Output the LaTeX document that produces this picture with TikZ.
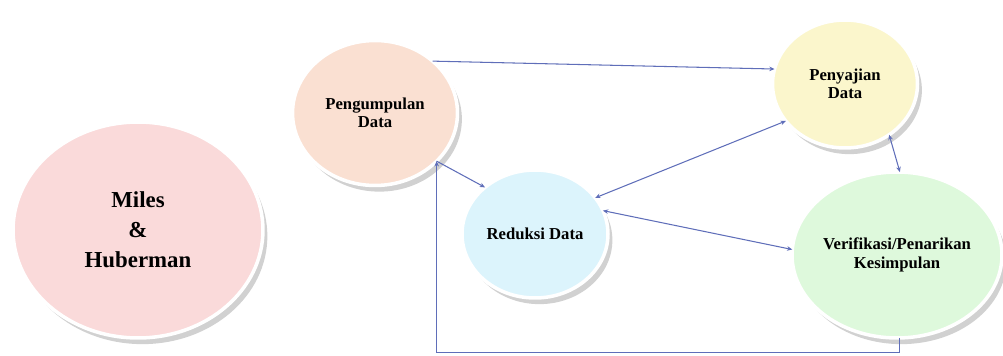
\documentclass[tikz,border=0pt]{standalone}
\usepackage{fontspec}
\setmainfont{Liberation Serif}
\usetikzlibrary{shapes.geometric,shadows,arrows.meta}

\definecolor{linkblue}{RGB}{95,110,185}
\definecolor{milespink}{RGB}{250,218,218}
\definecolor{pengpeach}{RGB}{250,224,210}
\definecolor{redcyan}{RGB}{220,244,252}
\definecolor{penyyellow}{RGB}{251,246,204}
\definecolor{verifgreen}{RGB}{222,249,220}

\tikzset{
  bubble/.style={ellipse, draw=white, line width=2pt, outer sep=0pt, inner sep=0pt,
    align=center, font=\bfseries\fontsize{9.5}{10.5}\selectfont,
    drop shadow={shadow xshift=2.5pt, shadow yshift=-3.5pt, opacity=0.3, fill=black!60}},
  link/.style={linkblue, line width=0.6pt},
  tip/.tip={Stealth[length=3pt,width=2.6pt]}
}

\begin{document}
\begin{tikzpicture}[x=0.02cm,y=0.02cm]
  \useasboundingbox (0,0) rectangle (1003,355);

  % the five bubbles
  \node[bubble, fill=milespink, minimum width=5cm, minimum height=4.32cm,
        font=\bfseries\fontsize{13}{17}\selectfont] (miles) at (138,125) {Miles\\\&\\Huberman};
  \node[bubble, fill=pengpeach, minimum width=3.3cm, minimum height=2.9cm] (peng) at (375,242) {Pengumpulan\\Data};
  \node[bubble, fill=redcyan, minimum width=2.92cm, minimum height=2.56cm] (red) at (535,121) {Reduksi Data};
  \node[bubble, fill=penyyellow, minimum width=2.9cm, minimum height=2.56cm] (peny) at (845,271) {Penyajian\\Data};
  \node[bubble, fill=verifgreen, minimum width=4.2cm, minimum height=3.32cm] (verif) at (897,100) {Verifikasi/Penarikan\\Kesimpulan};

  % connectors
  \draw[link, -tip] (peng.42) -- (peny.168);
  \draw[link, -tip] (peng.-38) -- (red.137);
  \draw[link, tip-tip] (red.31) -- (peny.212);
  \draw[link, tip-tip] (red.19) -- (verif.177);
  \draw[link, tip-tip] (peny.-49) -- (verif.88);
  \draw[link, -tip] (verif.-88) -- ++(0,-15) -| (peng.-38);
\end{tikzpicture}
\end{document}
